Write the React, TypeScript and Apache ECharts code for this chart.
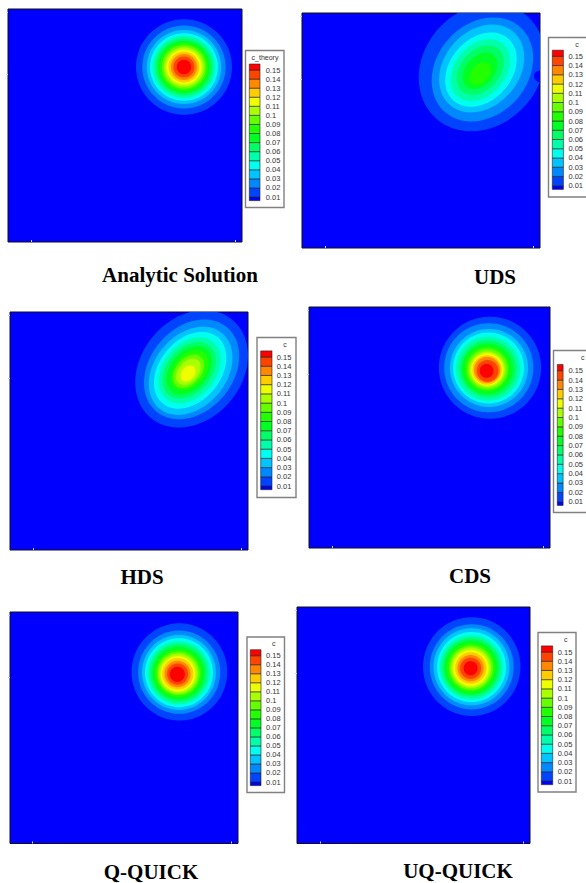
import React, { useEffect, useRef } from "react";
import * as echarts from "echarts";

const tickLabels = [0.01, 0.02, 0.03, 0.04, 0.05, 0.06, 0.07, 0.08, 0.09, 0.1, 0.11, 0.12, 0.13, 0.14, 0.15];
const bandColors = ["#0044ff", "#0088ff", "#00c4ff", "#00ffee", "#00ffaa", "#00ff66", "#00ff22", "#22ff00", "#66ff00", "#aaff00", "#eeff00", "#ffcc00", "#ff8800", "#ff4400", "#ff0000"];
const baseColor = "#0000ff";
const legendLower = [0.006, 0.01, 0.02, 0.03, 0.04, 0.05, 0.06, 0.07, 0.08, 0.09, 0.1, 0.11, 0.12, 0.13, 0.14, 0.15];
const legendUpper = [0.01, 0.02, 0.03, 0.04, 0.05, 0.06, 0.07, 0.08, 0.09, 0.1, 0.11, 0.12, 0.13, 0.14, 0.15, 0.1566];
const legendColors = [baseColor, ...bandColors];

const analyticCx = [0.752, 0.752, 0.752, 0.752, 0.752, 0.752, 0.752, 0.752, 0.752, 0.752, 0.752, 0.752, 0.752, 0.752, 0.752];
const analyticCy = [0.751, 0.751, 0.751, 0.751, 0.751, 0.751, 0.751, 0.751, 0.751, 0.751, 0.751, 0.751, 0.751, 0.751, 0.751];
const analyticA = [0.205, 0.178, 0.159, 0.145, 0.133, 0.122, 0.112, 0.103, 0.094, 0.085, 0.076, 0.066, 0.056, 0.045, 0.031];
const analyticB = [0.205, 0.178, 0.159, 0.145, 0.133, 0.122, 0.112, 0.103, 0.094, 0.085, 0.076, 0.066, 0.056, 0.045, 0.031];

const udsCx = [0.755, 0.758, 0.755, 0.752, 0.749, 0.749, 0.748, 0.749];
const udsCy = [0.769, 0.76, 0.764, 0.759, 0.757, 0.757, 0.754, 0.742];
const udsA = [0.29, 0.24, 0.205, 0.175, 0.147, 0.118, 0.088, 0.055];
const udsB = [0.245, 0.192, 0.158, 0.13, 0.106, 0.083, 0.06, 0.038];
// Small dent of the outer band against the right edge of the UDS frame: x, y, half-width, half-height.
const udsDent = [1.0, 0.73, 0.024, 0.026];

const hdsCx = [0.763, 0.763, 0.759, 0.757, 0.755, 0.753, 0.753, 0.755, 0.75, 0.75, 0.748];
const hdsCy = [0.761, 0.759, 0.753, 0.755, 0.755, 0.755, 0.755, 0.755, 0.751, 0.749, 0.742];
const hdsA = [0.268, 0.231, 0.206, 0.181, 0.155, 0.134, 0.116, 0.095, 0.08, 0.063, 0.038];
const hdsB = [0.212, 0.175, 0.151, 0.128, 0.11, 0.093, 0.078, 0.065, 0.053, 0.042, 0.027];

const cdsCx = [0.751, 0.746, 0.747, 0.745, 0.743, 0.743, 0.741, 0.739, 0.74, 0.739, 0.739, 0.739, 0.739, 0.741, 0.737];
const cdsCy = [0.748, 0.748, 0.747, 0.747, 0.744, 0.744, 0.743, 0.743, 0.742, 0.741, 0.741, 0.739, 0.739, 0.735, 0.735];
const cdsA = [0.212, 0.185, 0.162, 0.147, 0.133, 0.118, 0.106, 0.093, 0.085, 0.075, 0.068, 0.061, 0.054, 0.045, 0.029];
const cdsB = [0.212, 0.185, 0.162, 0.147, 0.133, 0.118, 0.106, 0.093, 0.085, 0.075, 0.068, 0.061, 0.054, 0.045, 0.029];

const qquickCx = [0.743, 0.742, 0.741, 0.741, 0.74, 0.74, 0.739, 0.738, 0.738, 0.737, 0.736, 0.736, 0.735, 0.735, 0.734];
const qquickCy = [0.741, 0.74, 0.739, 0.738, 0.737, 0.737, 0.736, 0.735, 0.735, 0.734, 0.733, 0.733, 0.732, 0.732, 0.731];
const qquickA = [0.21, 0.18, 0.162, 0.149, 0.136, 0.125, 0.114, 0.103, 0.094, 0.086, 0.077, 0.068, 0.057, 0.046, 0.033];
const qquickB = [0.21, 0.18, 0.162, 0.149, 0.136, 0.125, 0.114, 0.103, 0.094, 0.086, 0.077, 0.068, 0.057, 0.046, 0.033];

const uqquickCx = [0.75, 0.75, 0.749, 0.749, 0.748, 0.748, 0.747, 0.747, 0.747, 0.746, 0.746, 0.746, 0.745, 0.745, 0.745];
const uqquickCy = [0.748, 0.747, 0.747, 0.746, 0.745, 0.745, 0.744, 0.744, 0.743, 0.743, 0.742, 0.742, 0.741, 0.741, 0.741];
const uqquickA = [0.209, 0.18, 0.163, 0.148, 0.135, 0.124, 0.114, 0.103, 0.094, 0.086, 0.077, 0.067, 0.056, 0.045, 0.03];
const uqquickB = [0.209, 0.18, 0.163, 0.148, 0.135, 0.124, 0.114, 0.103, 0.094, 0.086, 0.077, 0.067, 0.056, 0.045, 0.03];

const captions = ["Analytic Solution", "UDS", "HDS", "CDS", "Q-QUICK", "UQ-QUICK"];
const legendTitles = ["c_theory", "c", "c", "c", "c", "c"];
const frameTicksX = [0.098, 0.97];
const frameTicksY = [0.72, 0.985];

type Panel = {
  cx: number[]; cy: number[]; a: number[]; b: number[]; tilt: number; dent?: number[];
  frame: number[]; // left, top, right, bottom
  box: number[]; // left, top, right, bottom
  bar: number[]; // left, right, y of 0.15, y of 0.01
  labelX: number; titleX: number; titleY: number; capX: number; capY: number;
};

const panels: Panel[] = [
  { cx: analyticCx, cy: analyticCy, a: analyticA, b: analyticB, tilt: 0, frame: [8, 9, 242, 242], box: [245.5, 50.5, 284, 207.5], bar: [249.3, 260, 70, 197], labelX: 265.7, titleX: 265, titleY: 57, capX: 180, capY: 275 },
  { cx: udsCx, cy: udsCy, a: udsA, b: udsB, tilt: 50, dent: udsDent, frame: [302, 13, 540, 248], box: [548.5, 37.5, 596, 197], bar: [552.3, 564, 56.3, 185.7], labelX: 569, titleX: 577, titleY: 44, capX: 495, capY: 277 },
  { cx: hdsCx, cy: hdsCy, a: hdsA, b: hdsB, tilt: 50, frame: [10, 312, 248, 550], box: [257, 337.5, 296, 497.5], bar: [260.7, 272, 357, 486], labelX: 276.7, titleX: 285, titleY: 344, capX: 142, capY: 577 },
  { cx: cdsCx, cy: cdsCy, a: cdsA, b: cdsB, tilt: 0, frame: [309, 307, 550, 548], box: [553.5, 350.5, 600, 512.5], bar: [557.3, 568.7, 370.7, 501.7], labelX: 574, titleX: 582.7, titleY: 357.3, capX: 470, capY: 576 },
  { cx: qquickCx, cy: qquickCy, a: qquickA, b: qquickB, tilt: 0, frame: [10, 612, 238, 843.5], box: [247, 637, 284.5, 792.5], bar: [250.3, 261, 655.7, 782], labelX: 266, titleX: 273.7, titleY: 643.3, capX: 151, capY: 872 },
  { cx: uqquickCx, cy: uqquickCy, a: uqquickA, b: uqquickB, tilt: 0, frame: [297, 607, 530, 843.5], box: [538, 632.5, 576, 792], bar: [541.3, 552.7, 652, 781], labelX: 557.7, titleX: 565.7, titleY: 639.3, capX: 458, capY: 871 },
];

function contourItem(tilt: number) {
  const t = (tilt * Math.PI) / 180;
  return (_p: any, api: any) => {
    const lvl = api.value(0);
    const cx = api.value(1), cy = api.value(2), a = api.value(3), b = api.value(4);
    const points: number[][] = [];
    for (let i = 0; i < 90; i++) {
      const f = (i / 90) * Math.PI * 2;
      const u = a * Math.cos(f), v = b * Math.sin(f);
      points.push(api.coord([cx + u * Math.cos(t) - v * Math.sin(t), cy + u * Math.sin(t) + v * Math.cos(t)]));
    }
    return { type: "polygon", shape: { points }, style: { fill: legendColors[lvl + 1], stroke: null } };
  };
}

function legendItem(_p: any, api: any) {
  const lo = api.coord([0, api.value(0)]);
  const hi = api.coord([1, api.value(1)]);
  return {
    type: "rect",
    shape: { x: lo[0], y: hi[1], width: hi[0] - lo[0], height: lo[1] - hi[1] },
    style: { fill: legendColors[api.value(2)], stroke: "#222", lineWidth: 0.6 },
  };
}

function buildOption() {
  const grid: any[] = [], xAxis: any[] = [], yAxis: any[] = [], series: any[] = [], elements: any[] = [];
  panels.forEach((p, i) => {
    const [l, t, r, b] = p.frame;
    grid.push({ show: true, left: l, top: t, width: r - l, height: b - t, backgroundColor: baseColor, borderColor: "#111", borderWidth: 1 });
    xAxis.push({ type: "value", gridIndex: 2 * i, min: 0, max: 1, axisLabel: { show: false }, axisLine: { show: false }, splitLine: { show: false }, axisTick: { show: true, inside: true, length: 2, customValues: frameTicksX, lineStyle: { color: "#c8d0ff", width: 1 } } });
    yAxis.push({ type: "value", gridIndex: 2 * i, position: "right", min: 0, max: 1, axisLabel: { show: false }, axisLine: { show: false }, splitLine: { show: false }, axisTick: { show: true, inside: true, length: 2, customValues: frameTicksY, lineStyle: { color: "#c8d0ff", width: 1 } } });
    const rows = p.a.map((_, k) => [k, p.cx[k], p.cy[k], p.a[k], p.b[k]]);
    if (p.dent) rows.splice(1, 0, [-1, p.dent[0], p.dent[1], p.dent[2], p.dent[3]]);
    series.push({
      type: "custom", xAxisIndex: 2 * i, yAxisIndex: 2 * i, clip: true, silent: true, z: 3,
      renderItem: contourItem(p.tilt),
      data: rows,
    });

    const [bl, br, y15, y01] = p.bar;
    const step = (y01 - y15) / 14;
    grid.push({ show: false, left: bl, width: br - bl, top: y15 - step, height: y01 - y15 + 2 * step });
    xAxis.push({ type: "value", gridIndex: 2 * i + 1, min: 0, max: 1, show: false });
    yAxis.push({
      type: "value", gridIndex: 2 * i + 1, position: "right", min: 0, max: 0.16, interval: 0.01,
      axisLine: { show: false }, axisTick: { show: false }, splitLine: { show: false },
      axisLabel: {
        show: true, margin: p.labelX - br, fontFamily: "Liberation Sans", fontSize: 7.5, color: "#333",
        customValues: tickLabels,
        formatter: (v: number) => String(Math.round(v * 100) / 100),
      },
    });
    series.push({
      type: "custom", xAxisIndex: 2 * i + 1, yAxisIndex: 2 * i + 1, clip: false, silent: true, z: 3,
      renderItem: legendItem,
      data: legendLower.map((lo, k) => [lo, legendUpper[k], k]),
    });

    const [xl, yt, xr, yb] = p.box;
    elements.push({ type: "rect", z: -1, shape: { x: xl, y: yt, width: xr - xl, height: yb - yt }, style: { fill: "transparent", stroke: "#808080", lineWidth: 1.4 } });
    elements.push({ type: "text", z: 5, style: { x: p.titleX, y: p.titleY, text: legendTitles[i], textAlign: "center", textVerticalAlign: "middle", fill: "#333", font: "7px 'Liberation Sans'" } });
    elements.push({ type: "text", z: 5, style: { x: p.capX, y: p.capY, text: captions[i], textAlign: "center", textVerticalAlign: "middle", fill: "#000", font: "bold 21px 'Liberation Serif'" } });
  });
  return { animation: false, backgroundColor: "#fff", grid, xAxis, yAxis, series, graphic: { elements } };
}

export default function App() {
  const ref = useRef<HTMLDivElement>(null);
  useEffect(() => {
    const chart = echarts.init(ref.current!, undefined, { renderer: "svg" });
    chart.setOption(buildOption());
    return () => chart.dispose();
  }, []);
  return <div ref={ref} style={{ position: "absolute", left: 0, top: 0, width: 586, height: 883 }} />;
}
